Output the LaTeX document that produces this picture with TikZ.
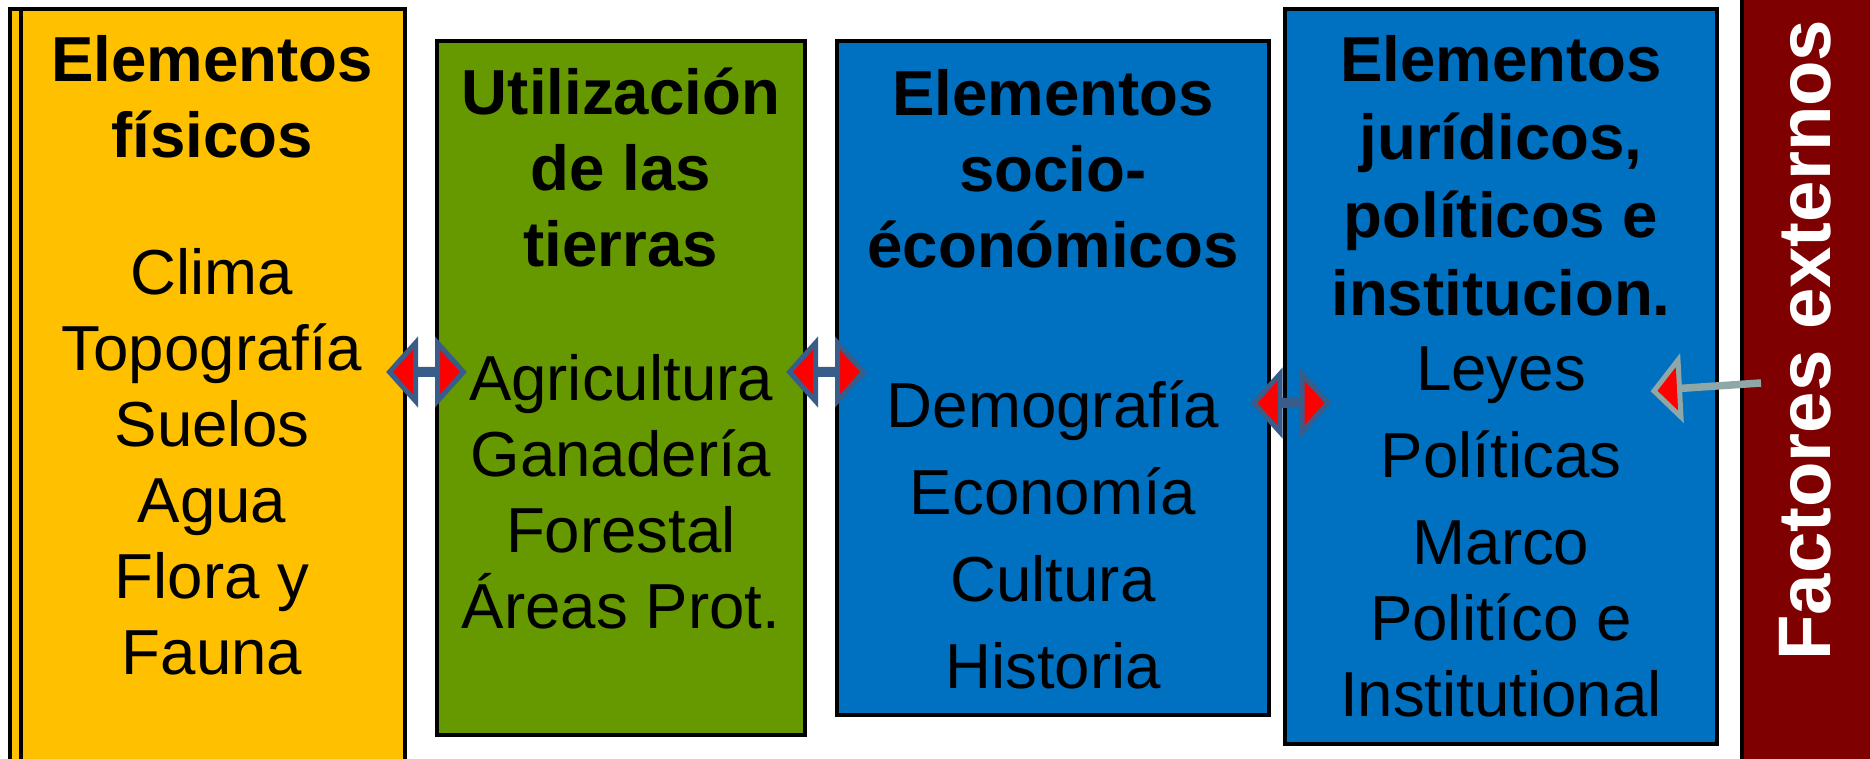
\documentclass[tikz,border=0pt]{standalone}
\usepackage{fontspec}
\setmainfont{Liberation Sans}
\usetikzlibrary{fit,calc}
\definecolor{cYel}{HTML}{FFC000}
\definecolor{cGrn}{HTML}{669900}
\definecolor{cBlu}{HTML}{0070C0}
\definecolor{cRed}{HTML}{7F0000}
\definecolor{cArr}{HTML}{385D8A}
\definecolor{cGry}{HTML}{8FA7A7}
\definecolor{cTip}{HTML}{FF0000}
\tikzset{
  box/.style={draw=black, line width=2pt, inner sep=0pt},
  ttl/.style={font=\fontsize{31.8}{38}\selectfont\bfseries, align=center, inner sep=0pt, text=black},
  bod/.style={font=\fontsize{31.8}{38}\selectfont, align=center, inner sep=0pt, text=black},
  dblarrow/.pic={
    \draw[draw=cArr, fill=cTip, line width=2.5pt, line join=miter]
      (-37,0) -- (-11,-29) -- (-11,-2.5) -- (11,-2.5) -- (11,-29) -- (37,0)
      -- (11,29) -- (11,2.5) -- (-11,2.5) -- (-11,29) -- cycle;
  }
}
\begin{document}
\begin{tikzpicture}[x=0.5pt,y=-0.5pt]
\useasboundingbox (0,0) rectangle (1870,759);
% boxes
\node[box, fill=cYel, fit={(10,9) (404.5,775)}] (yel) {};
\draw[line width=2pt] (21,9) -- (21,775);
\node[box, fill=cGrn, fit={(437,41) (804.5,735)}] (grn) {};
\node[box, fill=cBlu, fit={(837,41) (1269,715)}] (blA) {};
\node[box, fill=cBlu, fit={(1285,9) (1717,744)}] (blB) {};
\node[fill=cRed, inner sep=0pt, fit={(1742,-10) (1880,770)}] (red) {};
\draw[line width=2pt] (1742,-10) -- (1742,770);
% texts
\node[ttl] (yelT) at (212,104) {\strut Elementos\\físicos\strut};
\node[bod] (yelB) at (212,469) {\strut Clima\\Topografía\\Suelos\\Agua\\Flora y\\Fauna\strut};
\node[ttl] (grnT) at (621,175) {\strut Utilización\\de las\\tierras\strut};
\node[bod] (grnB) at (621,499) {\strut Agricultura\\Ganadería\\Forestal\\Áreas Prot.\strut};
\node[ttl] (blAT) at (1053,176) {\strut Elementos\\socio-\\éconómicos\strut};
\node[bod] (blAB) at (1053,543) {\strut Demografía\\[5.5pt]Economía\\[5.5pt]Cultura\\[5.5pt]Historia\strut};
\node[ttl, font=\fontsize{31.8}{39}\selectfont\bfseries] (blBT) at (1501,183) {\strut Elementos\\jurídicos,\\políticos e\\institucion.\strut};
\node[bod] (blBB) at (1501,538) {\strut Leyes\\[5.5pt]Políticas\\[5.5pt]Marco\\Politíco e\\Institutional\strut};
\node[rotate=90, anchor=base, inner sep=0pt, text=white,
      font=\fontsize{37.2}{44}\selectfont\bfseries] (fx) at (1830,340) {Factores externos};
% double arrows
\coordinate (a1) at (426.5,372);
\coordinate (a2) at (826.5,372);
\coordinate (a3) at (1291,403);
\pic at (a1) {dblarrow};
\pic at (a2) {dblarrow};
\pic at (a3) {dblarrow};
% external arrow
\coordinate (eTail) at (1761,383);
\coordinate (eBase) at (1679,388.5);
\coordinate (eTip) at (1654,391);
\draw[cGry, line width=3.75pt] (eTail) -- (eBase);
\draw[draw=cGry, fill=cTip, line width=2.5pt, line join=miter]
  (eTip) -- (1678,360) -- (1681,417) -- cycle;
\end{tikzpicture}
\end{document}
